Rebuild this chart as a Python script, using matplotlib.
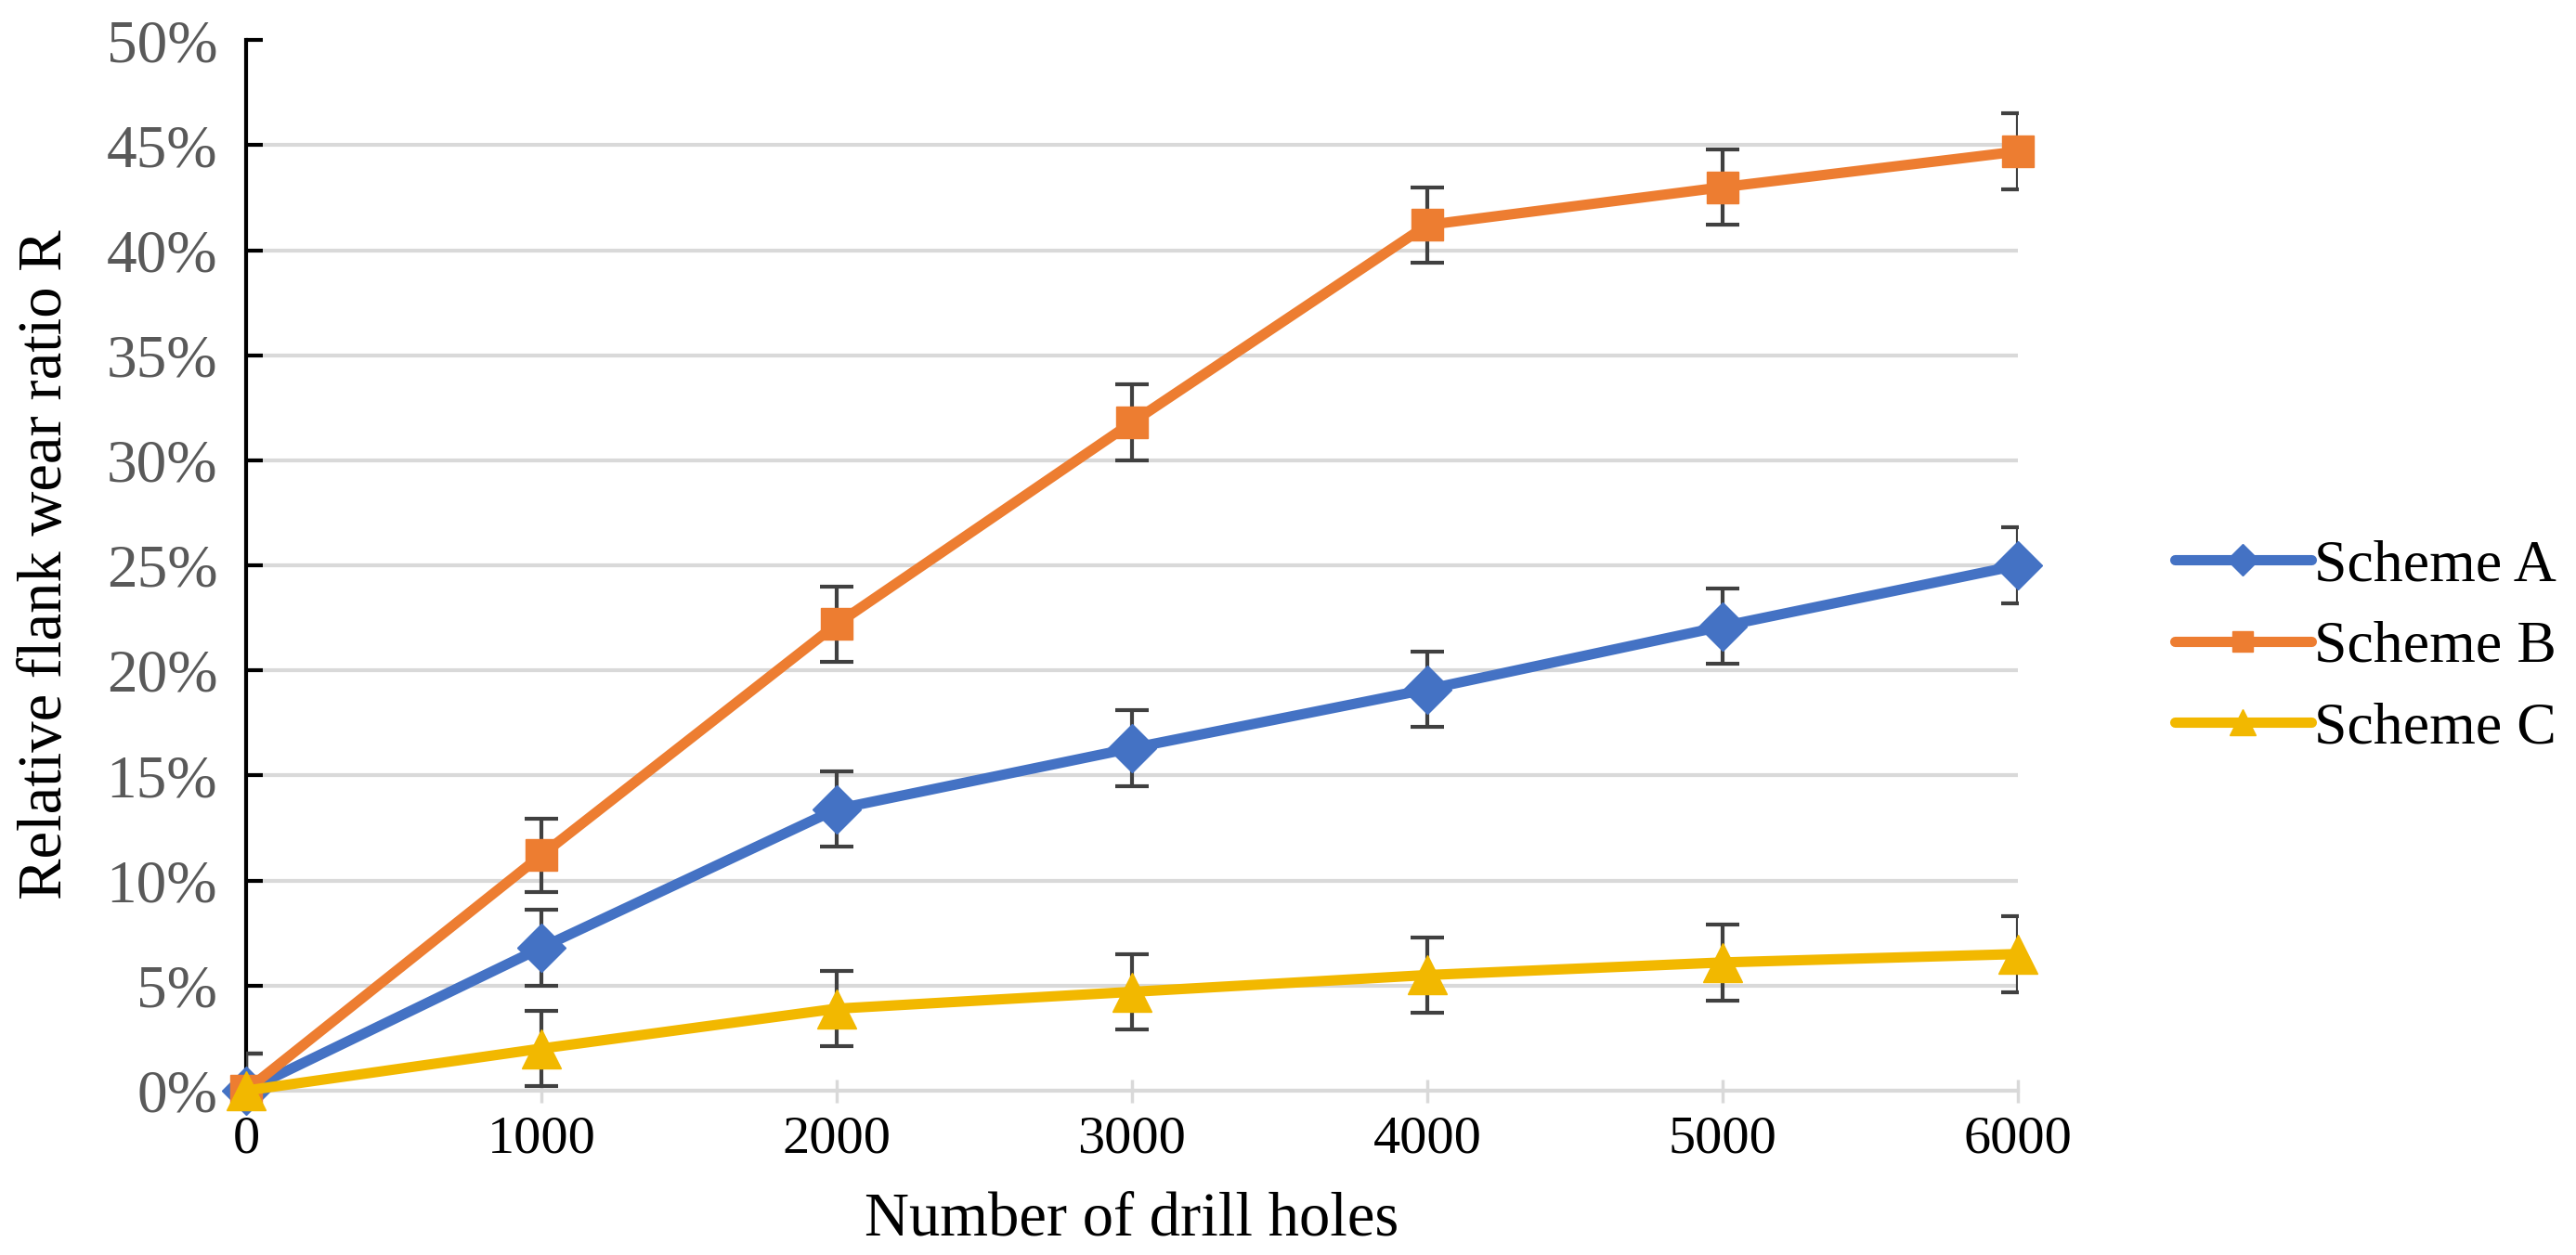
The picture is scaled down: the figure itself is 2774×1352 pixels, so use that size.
import numpy as np
import matplotlib
matplotlib.use("Agg")
from matplotlib import pyplot as plt
from matplotlib.ticker import FuncFormatter

# data (percent)
holes = [0, 1000, 2000, 3000, 4000, 5000, 6000]
scheme_a = [0.0, 6.8, 13.4, 16.3, 19.1, 22.1, 25.0]
scheme_b = [0.0, 11.2, 22.2, 31.8, 41.2, 43.0, 44.7]
scheme_c = [0.0, 2.0, 3.9, 4.7, 5.5, 6.1, 6.5]
err_a = [1.75, 1.8, 1.8, 1.8, 1.8, 1.8, 1.8]
err_b = [1.75, 1.75, 1.8, 1.8, 1.8, 1.8, 1.8]
err_c = [1.75, 1.8, 1.8, 1.8, 1.8, 1.8, 1.8]
labels = ["Scheme A", "Scheme B", "Scheme C"]
colors = ["#4472C4", "#ED7D31", "#F2B800"]
markers = ["D", "s", "^"]
msizes = [26, 24, 30]

plt.rcParams['font.family'] = ['Liberation Serif', 'DejaVu Serif']

fig = plt.figure(figsize=(27.74, 13.52), dpi=100)
ax = fig.add_axes([0.0955, 0.131, 0.6878, 0.837])

series = [scheme_a, scheme_b, scheme_c]
errs = [err_a, err_b, err_c]

# error bars first so markers sit on top
for s, e in zip(series, errs):
    ax.errorbar(holes, s, yerr=e, fmt='none', ecolor='#404040',
                elinewidth=3, capsize=13, capthick=3, zorder=3)

for s, lab, c, m, ms in zip(series, labels, colors, markers, msizes):
    ax.plot(holes, s, color=c, lw=8, marker=m, markersize=ms,
            label=lab, zorder=4, clip_on=False, solid_capstyle='round')

ax.set_xlim(0, 6000)
ax.set_ylim(0, 50)
ax.set_xticks(holes)
ax.set_yticks(np.arange(0, 51, 5))
ax.yaxis.set_major_formatter(FuncFormatter(lambda v, p: "%d%%" % v))

ax.yaxis.grid(True, color='#D9D9D9', lw=3, zorder=0)
ax.get_ygridlines()[-1].set_visible(False)
ax.set_axisbelow(True)

for side in ['top', 'right']:
    ax.spines[side].set_visible(False)
ax.spines['left'].set_linewidth(3)
ax.spines['left'].set_color('black')
ax.spines['bottom'].set_color('#D9D9D9')
ax.spines['bottom'].set_linewidth(3)

ax.tick_params(axis='y', direction='in', length=13, width=3, color='black',
               labelsize=47, labelcolor='#595959', pad=22)
ax.tick_params(axis='x', direction='inout', length=18, width=2.5, color='#D9D9D9',
               labelsize=42, labelcolor='black', pad=10)

fig.text(0.018, 0.55, "Relative flank wear ratio R", rotation=90,
         ha='center', va='center', fontsize=48)
ax.set_xlabel("Number of drill holes", fontsize=48, labelpad=22)

fig.legend(loc='center left', bbox_to_anchor=(0.835, 0.484), frameon=False,
           fontsize=46, handlelength=2.3, handletextpad=0.05, labelspacing=0.45,
           markerscale=0.65, borderaxespad=0)

fig.savefig("out.png", dpi=100)
